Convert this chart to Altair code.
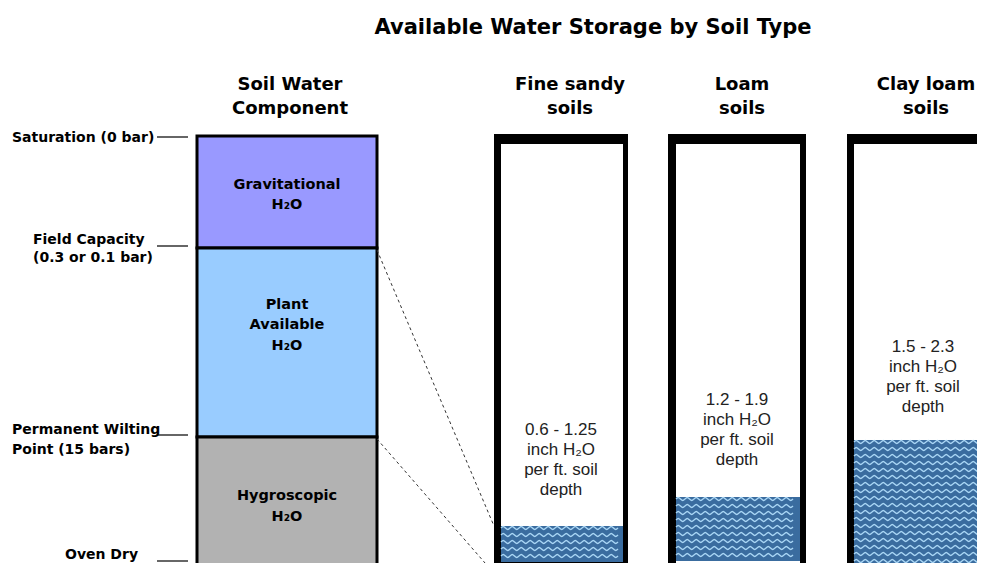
import altair as alt
import pandas as pd

# ---------------- data ----------------
title_text = "Available Water Storage by Soil Type"

header_lines = ["Soil Water", "Component", "Fine sandy", "soils", "Loam", "soils", "Clay loam", "soils"]

components = ["Gravitational", "Plant Available", "Hygroscopic"]
component_labels = [["Gravitational", "H₂O"], ["Plant", "Available", "H₂O"], ["Hygroscopic", "H₂O"]]
component_colors = ["#9999ff", "#99ccff", "#b2b2b2"]
component_top = [136, 248, 437]      # position on the moisture-state axis
component_bottom = [248, 437, 567]

levels = ["Saturation (0 bar)", "Field Capacity", "(0.3 or 0.1  bar)", "Permanent Wilting",
          "Point  (15  bars)", "Oven Dry"]
level_tick_y = [137, 246, 435, 561]

soils = ["Fine sandy", "Loam", "Clay loam"]
storage_ranges = ["0.6 - 1.25", "1.2 - 1.9", "1.5 - 2.3"]
storage_lines = ["inch H₂O", "per ft. soil", "depth"]
water_top = [526, 497, 440]          # water level drawn in each soil column
water_bottom = [562, 561, 567]

# ---------------- layout ----------------
W, H = 969, 555
X0, X1, Y0, Y1 = 8, 977, 8, 563
xs = alt.Scale(domain=[X0, X1], nice=False, zero=False)
ys = alt.Scale(domain=[Y0, Y1], reverse=True, nice=False, zero=False)

col_center = [290, 570, 742, 926]
box_left, box_right = 197, 377
cont_outer_l = [494, 668, 847]
cont_outer_r = [628, 806, 1010]
cont_inner_l = [501, 676, 854]
cont_inner_r = [623, 800, 1010]
cont_inner_b = [562, 565, 567]
cont_top_outer, cont_top_inner = 134, 144
text_top = [430, 400, 347]
text_cx = [561, 737, 923]

XE = alt.X("x:Q", scale=xs, axis=None)
YE = alt.Y("y:Q", scale=ys, axis=None)


def rect_enc(chart):
    return chart.encode(x=XE, y=YE, x2="x2:Q", y2="y2:Q")


def text_layer(rows, size, weight="normal", font="DejaVu Sans", align="center", color="black"):
    df = pd.DataFrame(rows, columns=["text", "x", "y"])
    return alt.Chart(df).mark_text(fontSize=size, fontWeight=weight, font=font, align=align,
                                   baseline="middle", color=color).encode(x=XE, y=YE, text="text:N")


layers = []

# component boxes
comp_df = pd.DataFrame({"name": components, "color": component_colors,
                        "x": box_left, "x2": box_right, "y": component_top, "y2": component_bottom})
layers.append(rect_enc(alt.Chart(comp_df).mark_rect(stroke="black", strokeWidth=3, clip=True)).encode(
    fill=alt.Fill("color:N", scale=None)))

# level ticks
lev_df = pd.DataFrame({"x": 157, "x2": 188, "y": level_tick_y, "y2": level_tick_y})
layers.append(rect_enc(alt.Chart(lev_df).mark_rule(color="black", strokeWidth=1.2)))

# dashed connector lines
dash_df = pd.DataFrame({"x": [box_right, box_right], "y": [component_top[1] + 2, component_top[2] + 2],
                        "x2": [494, 492], "y2": [water_top[0], 571]})
layers.append(rect_enc(alt.Chart(dash_df).mark_rule(color="#333333", strokeWidth=1, strokeDash=[3, 3],
                                                     clip=True)))

# soil containers
outer_df = pd.DataFrame({"x": cont_outer_l, "x2": cont_outer_r, "y": cont_top_outer, "y2": 590})
layers.append(rect_enc(alt.Chart(outer_df).mark_rect(color="black", clip=True)))
inner_df = pd.DataFrame({"x": cont_inner_l, "x2": cont_inner_r, "y": cont_top_inner, "y2": cont_inner_b})
layers.append(rect_enc(alt.Chart(inner_df).mark_rect(color="white", clip=True)))
water_df = pd.DataFrame({"soil": soils, "x": cont_inner_l, "x2": cont_inner_r,
                         "y": water_top, "y2": water_bottom})
layers.append(rect_enc(alt.Chart(water_df).mark_rect(color="#3a6c9f", clip=True)))

# wave texture: one small wave symbol per cell of the water area
wave_path = "M-1,0 C-0.5,-0.45 -0.5,-0.45 0,0 C0.5,0.45 0.5,0.45 1,0"
waves = []
for i in range(3):
    yy = water_top[i] + 2
    while yy < water_bottom[i] - 1:
        xx = cont_inner_l[i] + 4.5
        while xx <= min(cont_inner_r[i], X1 + 10) - 4.5:
            waves.append({"x": xx, "y": yy})
            xx += 9
        yy += 7
wave_df = pd.DataFrame(waves)
layers.append(alt.Chart(wave_df).mark_point(shape=wave_path, size=81, filled=False, stroke="#a9d6f5",
                                            strokeWidth=1.5, opacity=1, clip=True).encode(x=XE, y=YE))

# texts
layers.append(text_layer([[title_text, 593, 28]], 21, "bold"))
hdr = []
for j, c in enumerate(col_center):
    hdr.append([header_lines[2 * j], c, 85])
    hdr.append([header_lines[2 * j + 1], c, 109])
layers.append(text_layer(hdr, 18, "bold"))

left_pos = [[12, 138], [33, 240], [33, 258], [12, 430], [12, 450], [65, 555]]
left_rows = [[t, p[0], p[1]] for t, p in zip(levels, left_pos)]
layers.append(text_layer(left_rows, 14, "bold", align="left"))

comp_rows = []
comp_y = [[185, 205], [305, 325, 346], [496, 517]]
for labels, yv in zip(component_labels, comp_y):
    for t, y in zip(labels, yv):
        comp_rows.append([t, 287, y])
layers.append(text_layer(comp_rows, 14.5, "bold"))

st_rows = []
for i in range(3):
    lines = [storage_ranges[i]] + storage_lines
    for k, t in enumerate(lines):
        st_rows.append([t, text_cx[i], text_top[i] + 20 * k])
layers.append(text_layer(st_rows, 17, "normal", font="Liberation Sans", color="#222222"))

chart = alt.layer(*layers).properties(
    width=W, height=H, padding=0, autosize=alt.AutoSizeParams(type="none"), background="white"
).configure_view(stroke=None)

chart.save("out.html", embed_options={"renderer": "svg", "actions": False})
